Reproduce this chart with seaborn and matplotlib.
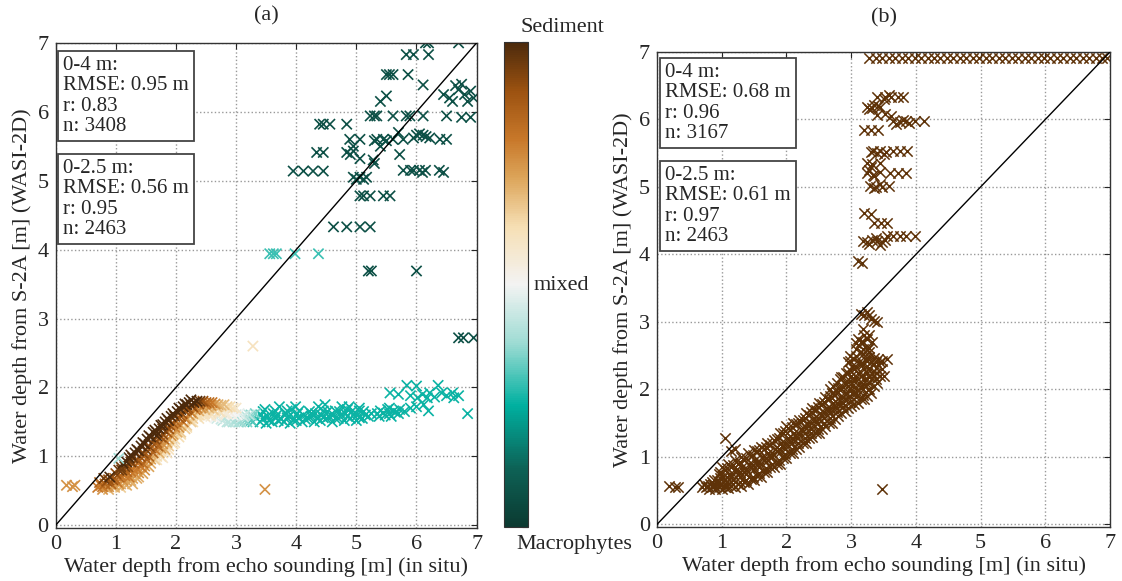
import matplotlib
matplotlib.use("Agg")
import pandas as pd
import matplotlib.pyplot as plt
import seaborn as sns
from matplotlib.colors import LinearSegmentedColormap, Normalize
from matplotlib.cm import ScalarMappable

# ---- data: panel (a), (x in situ, y WASI, class 0=Macrophytes .. 1=Sediment)
a_cloud = [
    (0.70, 0.55, 0.80), (0.73, 0.62, 0.85),
    (0.78, 0.52, 0.75), (0.82, 0.60, 0.85), (0.80, 0.68, 0.95),
    (0.88, 0.52, 0.70), (0.92, 0.60, 0.85), (0.90, 0.70, 1.00),
    (0.98, 0.55, 0.70), (1.02, 0.63, 0.80), (1.00, 0.75, 0.90),
    (1.08, 0.55, 0.65), (1.12, 0.65, 0.75), (1.10, 0.80, 0.95), (1.12, 0.90, 1.00),
    (1.18, 0.58, 0.70), (1.22, 0.70, 0.80), (1.20, 0.85, 0.90), (1.22, 0.98, 1.00),
    (1.28, 0.60, 0.70), (1.32, 0.75, 0.75), (1.30, 0.90, 0.85), (1.32, 1.05, 1.00),
    (1.38, 0.70, 0.70), (1.42, 0.85, 0.80), (1.40, 1.00, 0.90), (1.42, 1.15, 1.00),
    (1.48, 0.80, 0.75), (1.52, 0.95, 0.85), (1.50, 1.10, 0.95), (1.52, 1.25, 1.00),
    (1.58, 0.90, 0.70), (1.62, 1.05, 0.85), (1.60, 1.20, 0.90), (1.62, 1.35, 1.00),
    (1.68, 0.95, 0.60), (1.72, 1.05, 0.70), (1.70, 1.15, 0.85), (1.68, 1.30, 1.00), (1.72, 1.40, 1.00),
    (1.78, 0.98, 0.58), (1.82, 1.10, 0.70), (1.80, 1.25, 0.85), (1.78, 1.40, 0.95), (1.82, 1.50, 1.00),
    (1.88, 1.15, 0.65), (1.92, 1.30, 0.75), (1.90, 1.45, 0.90), (1.92, 1.58, 1.00),
    (1.98, 1.20, 0.60), (2.02, 1.35, 0.70), (2.00, 1.50, 0.85), (2.02, 1.65, 1.00),
    (2.08, 1.35, 0.65), (2.12, 1.50, 0.80), (2.10, 1.62, 0.90), (2.12, 1.72, 1.00),
    (2.18, 1.45, 0.65), (2.22, 1.60, 0.75), (2.20, 1.70, 0.90), (2.22, 1.78, 1.00),
    (2.28, 1.55, 0.65), (2.32, 1.68, 0.80), (2.30, 1.78, 1.00),
    (2.38, 1.60, 0.62), (2.42, 1.70, 0.75), (2.40, 1.80, 0.95),
    (2.48, 1.62, 0.60), (2.52, 1.72, 0.70), (2.50, 1.78, 0.85),
    (2.58, 1.58, 0.55), (2.62, 1.68, 0.65), (2.60, 1.78, 0.80),
    (2.68, 1.55, 0.45), (2.72, 1.65, 0.60), (2.70, 1.75, 0.70),
    (2.78, 1.52, 0.42), (2.82, 1.62, 0.55), (2.80, 1.75, 0.68),
    (2.88, 1.50, 0.42), (2.92, 1.62, 0.52), (2.90, 1.72, 0.62),
    (2.98, 1.50, 0.40), (3.02, 1.60, 0.50), (3.00, 1.70, 0.58),
    (3.08, 1.50, 0.38), (3.12, 1.58, 0.45),
    (3.18, 1.50, 0.35), (3.22, 1.60, 0.42),
    (3.28, 1.50, 0.30), (3.32, 1.62, 0.35),
    (0.75, 0.58, 0.80), (0.85, 0.56, 0.75), (0.85, 0.64, 0.90), (0.95, 0.56, 0.70),
    (0.95, 0.66, 0.90), (1.05, 0.60, 0.75), (1.05, 0.70, 0.85), (1.05, 0.80, 0.95),
    (1.15, 0.60, 0.70), (1.15, 0.72, 0.80), (1.15, 0.85, 0.95),
    (1.25, 0.65, 0.70), (1.25, 0.78, 0.80), (1.25, 0.92, 0.95), (1.25, 1.02, 1.00),
    (1.35, 0.68, 0.70), (1.35, 0.82, 0.80), (1.35, 0.95, 0.90), (1.35, 1.10, 1.00),
    (1.45, 0.75, 0.72), (1.45, 0.90, 0.82), (1.45, 1.05, 0.92), (1.45, 1.20, 1.00),
    (1.55, 0.85, 0.72), (1.55, 1.00, 0.85), (1.55, 1.15, 0.92), (1.55, 1.30, 1.00),
    (1.65, 0.95, 0.65), (1.65, 1.10, 0.80), (1.65, 1.25, 0.92), (1.65, 1.38, 1.00),
    (1.75, 1.00, 0.60), (1.75, 1.12, 0.75), (1.75, 1.28, 0.90), (1.75, 1.45, 1.00),
    (1.85, 1.05, 0.60), (1.85, 1.20, 0.72), (1.85, 1.35, 0.88), (1.85, 1.55, 1.00),
    (1.95, 1.18, 0.62), (1.95, 1.32, 0.72), (1.95, 1.48, 0.88), (1.95, 1.62, 1.00),
    (2.05, 1.28, 0.62), (2.05, 1.42, 0.75), (2.05, 1.56, 0.88), (2.05, 1.70, 1.00),
    (2.15, 1.40, 0.65), (2.15, 1.55, 0.78), (2.15, 1.66, 0.90), (2.15, 1.76, 1.00),
    (2.25, 1.50, 0.65), (2.25, 1.64, 0.78), (2.25, 1.74, 0.92), (2.25, 1.82, 1.00),
    (2.35, 1.58, 0.62), (2.35, 1.70, 0.78), (2.35, 1.80, 1.00),
    (2.45, 1.62, 0.60), (2.45, 1.72, 0.72), (2.45, 1.80, 0.90),
    (2.55, 1.60, 0.58), (2.55, 1.70, 0.68), (2.55, 1.78, 0.82),
    (2.65, 1.56, 0.50), (2.65, 1.66, 0.62), (2.65, 1.76, 0.75),
    (2.75, 1.54, 0.44), (2.75, 1.64, 0.58), (2.75, 1.74, 0.68),
    (2.85, 1.50, 0.42), (2.85, 1.62, 0.54), (2.85, 1.72, 0.64),
    (2.95, 1.50, 0.40), (2.95, 1.60, 0.50), (2.95, 1.70, 0.60),
    (3.05, 1.50, 0.38), (3.05, 1.62, 0.48), (3.15, 1.52, 0.36), (3.15, 1.60, 0.42),
    (3.25, 1.52, 0.32), (3.25, 1.60, 0.36),
    (0.78, 0.56, 0.80), (0.88, 0.56, 0.75), (0.88, 0.66, 0.90),
    (0.98, 0.58, 0.72), (0.98, 0.68, 0.85),
    (1.08, 0.60, 0.70), (1.08, 0.72, 0.80), (1.08, 0.85, 0.95),
    (1.18, 0.64, 0.72), (1.18, 0.78, 0.85), (1.18, 0.92, 1.00),
    (1.28, 0.68, 0.72), (1.28, 0.82, 0.80), (1.28, 0.98, 0.95),
    (1.38, 0.76, 0.75), (1.38, 0.92, 0.85), (1.38, 1.08, 1.00),
    (1.48, 0.86, 0.75), (1.48, 1.02, 0.88), (1.48, 1.18, 1.00),
    (1.58, 0.96, 0.72), (1.58, 1.12, 0.88), (1.58, 1.28, 1.00),
    (1.68, 1.00, 0.62), (1.68, 1.20, 0.85), (1.68, 1.35, 1.00),
    (1.78, 1.05, 0.62), (1.78, 1.18, 0.75), (1.78, 1.32, 0.92), (1.78, 1.46, 1.00),
    (1.88, 1.10, 0.60), (1.88, 1.25, 0.72), (1.88, 1.40, 0.90), (1.88, 1.52, 1.00),
    (1.98, 1.25, 0.62), (1.98, 1.42, 0.78), (1.98, 1.58, 0.95),
    (2.08, 1.32, 0.62), (2.08, 1.45, 0.72), (2.08, 1.58, 0.88), (2.08, 1.68, 1.00),
    (2.18, 1.42, 0.62), (2.18, 1.55, 0.72), (2.18, 1.68, 0.90), (2.18, 1.75, 1.00),
    (2.28, 1.50, 0.62), (2.28, 1.62, 0.72), (2.28, 1.72, 0.90),
    (2.38, 1.55, 0.60), (2.38, 1.66, 0.70), (2.38, 1.76, 0.90),
    (2.48, 1.58, 0.58), (2.48, 1.68, 0.68), (2.48, 1.76, 0.80),
    (2.58, 1.62, 0.60), (2.58, 1.74, 0.75), (2.68, 1.60, 0.55), (2.68, 1.72, 0.68),
]

a_band = [
    (3.40, 1.50), (3.42, 1.60), (3.50, 1.48), (3.52, 1.58), (3.48, 1.68),
    (3.60, 1.50), (3.62, 1.62), (3.70, 1.52), (3.68, 1.60), (3.72, 1.72),
    (3.80, 1.50), (3.82, 1.62), (3.90, 1.48), (3.88, 1.58), (3.92, 1.68),
    (4.00, 1.52), (4.02, 1.62), (3.99, 1.72), (4.10, 1.50), (4.12, 1.60),
    (4.20, 1.55), (4.22, 1.65), (4.30, 1.50), (4.32, 1.62), (4.37, 1.72),
    (4.40, 1.52), (4.42, 1.60), (4.50, 1.55), (4.52, 1.65), (4.48, 1.75),
    (4.60, 1.50), (4.62, 1.60), (4.70, 1.55), (4.72, 1.65), (4.76, 1.72),
    (4.80, 1.52), (4.82, 1.62), (4.90, 1.55), (4.92, 1.65), (4.88, 1.72),
    (5.00, 1.52), (5.02, 1.60), (5.05, 1.70), (5.10, 1.55), (5.12, 1.65),
    (5.20, 1.58), (5.38, 1.58), (5.40, 1.66), (5.48, 1.60), (5.52, 1.68),
    (5.58, 1.58), (5.62, 1.66), (5.70, 1.62), (5.72, 1.68), (5.80, 1.65),
    (5.90, 1.70), (6.00, 1.72), (6.02, 1.85), (6.00, 2.02), (6.10, 1.90),
    (6.12, 1.75), (6.20, 1.66), (6.18, 1.85), (6.22, 1.92), (6.30, 1.86),
    (6.36, 2.03), (6.42, 1.92), (6.50, 1.88), (6.60, 1.92), (6.62, 1.85),
    (6.70, 1.88), (6.85, 1.62), (5.56, 1.92), (5.70, 1.90), (5.84, 2.03),
    (5.90, 1.88),
    (3.45, 1.55), (3.55, 1.52), (3.65, 1.56), (3.75, 1.54), (3.85, 1.56),
    (3.95, 1.53), (4.05, 1.56), (4.15, 1.54), (4.25, 1.58), (4.35, 1.55),
    (4.45, 1.56), (4.55, 1.58), (4.65, 1.55), (4.75, 1.60), (4.85, 1.58),
    (4.95, 1.60), (5.05, 1.56), (5.15, 1.60), (5.25, 1.62), (5.45, 1.63),
    (5.55, 1.62), (5.65, 1.64), (3.45, 1.65), (3.65, 1.66), (3.85, 1.66),
    (4.05, 1.66), (4.25, 1.62), (4.45, 1.66), (4.65, 1.66), (4.85, 1.68),
    (5.05, 1.66), (5.35, 1.62), (5.55, 1.70),
]
a_band_c = 0.26

a_deep = [
    (5.83, 6.83), (5.95, 6.83), (6.20, 6.83),
    (5.50, 6.54), (5.55, 6.54), (5.61, 6.54), (5.86, 6.54), (6.11, 6.39),
    (5.40, 6.15), (5.50, 6.23),
    (6.45, 6.25), (6.55, 6.20), (6.65, 6.38), (6.70, 6.32), (6.75, 6.40),
    (6.80, 6.25), (6.90, 6.30), (6.60, 6.15), (6.85, 6.15), (6.95, 6.20),
    (5.23, 5.94), (5.30, 5.94), (5.34, 5.94), (5.61, 5.94), (5.83, 5.94),
    (5.89, 5.94), (6.11, 5.94), (6.50, 5.94), (6.75, 5.92), (6.90, 5.92),
    (4.39, 5.82), (4.45, 5.82), (4.56, 5.82), (4.84, 5.82),
    (4.89, 5.60), (5.06, 5.60), (5.30, 5.58), (5.34, 5.60), (5.45, 5.60),
    (5.50, 5.58), (5.61, 5.60), (5.78, 5.60), (5.95, 5.62), (6.00, 5.66),
    (6.05, 5.68), (6.11, 5.66), (6.16, 5.64), (6.22, 5.62), (6.39, 5.60),
    (6.50, 5.60), (5.70, 5.70), (4.95, 5.50), (5.40, 5.50),
    (4.34, 5.41), (4.45, 5.41), (4.84, 5.41), (4.90, 5.38), (4.95, 5.43),
    (5.06, 5.32), (5.28, 5.30), (5.30, 5.25), (5.72, 5.38),
    (3.95, 5.14), (4.12, 5.14), (4.28, 5.14), (4.45, 5.14),
    (5.78, 5.15), (5.90, 5.15), (5.95, 5.15), (6.05, 5.15), (6.10, 5.12),
    (6.15, 5.15), (6.38, 5.15), (6.45, 5.12),
    (4.95, 5.05), (5.00, 5.02), (5.06, 5.05), (5.12, 5.02), (5.17, 5.05),
    (5.06, 4.78), (5.12, 4.78), (5.23, 4.78), (5.45, 4.78), (5.56, 4.78),
    (4.62, 4.33), (4.84, 4.33), (5.06, 4.33), (5.23, 4.33),
    (5.20, 3.69), (5.25, 3.69), (6.00, 3.69),
    (6.70, 2.72), (6.78, 2.72), (6.95, 2.72),
    (6.15, 7.00), (6.20, 7.00), (6.70, 7.00),
]
a_deep_c = 0.07

a_misc = [
    (3.56, 3.94, 0.30), (3.62, 3.94, 0.30), (3.67, 3.94, 0.30),
    (3.98, 3.94, 0.30), (4.37, 3.94, 0.30),
    (0.18, 0.58, 0.75), (0.28, 0.56, 0.75), (0.32, 0.58, 0.75),
    (3.48, 0.52, 0.75), (3.28, 2.60, 0.60), (1.05, 0.97, 0.38),
]

a_stats = ["0-4 m:\nRMSE: 0.95 m\nr: 0.83\nn: 3408",
           "0-2.5 m:\nRMSE: 0.56 m\nr: 0.95\nn: 2463"]

# ---- data: panel (b), all sediment
b_cloud = [
    (0.70, 0.55), (0.72, 0.60), (0.80, 0.53), (0.82, 0.60),
    (0.90, 0.52), (0.88, 0.58), (0.92, 0.65),
    (1.00, 0.53), (0.98, 0.60), (1.02, 0.70), (1.00, 0.85),
    (1.10, 0.54), (1.08, 0.62), (1.12, 0.75), (1.10, 0.90),
    (1.20, 0.55), (1.18, 0.65), (1.22, 0.80), (1.20, 0.95),
    (1.30, 0.57), (1.28, 0.70), (1.32, 0.85), (1.30, 1.00),
    (1.40, 0.60), (1.38, 0.75), (1.42, 0.90), (1.40, 1.05),
    (1.50, 0.65), (1.48, 0.80), (1.52, 0.95), (1.50, 1.10),
    (1.60, 0.70), (1.58, 0.85), (1.62, 1.00), (1.60, 1.15),
    (1.70, 0.78), (1.68, 0.92), (1.72, 1.05), (1.70, 1.20),
    (1.80, 0.85), (1.78, 1.00), (1.82, 1.12), (1.80, 1.25),
    (1.90, 0.90), (1.88, 1.05), (1.92, 1.20), (1.90, 1.35),
    (2.00, 0.98), (1.98, 1.12), (2.02, 1.28), (2.00, 1.45),
    (2.10, 1.05), (2.08, 1.20), (2.12, 1.35), (2.10, 1.50),
    (2.20, 1.15), (2.18, 1.28), (2.22, 1.42), (2.20, 1.55),
    (2.30, 1.20), (2.28, 1.35), (2.32, 1.50), (2.30, 1.65),
    (2.40, 1.30), (2.38, 1.42), (2.42, 1.58), (2.40, 1.72),
    (2.50, 1.35), (2.48, 1.50), (2.52, 1.65), (2.50, 1.80),
    (2.60, 1.45), (2.58, 1.58), (2.62, 1.72), (2.60, 1.88),
    (2.70, 1.50), (2.68, 1.65), (2.72, 1.80), (2.70, 1.95), (2.72, 2.05),
    (2.80, 1.60), (2.78, 1.72), (2.82, 1.88), (2.80, 2.02), (2.82, 2.15),
    (2.90, 1.68), (2.88, 1.80), (2.92, 1.95), (2.90, 2.10), (2.92, 2.25),
    (3.00, 1.75), (2.98, 1.90), (3.02, 2.05), (3.00, 2.20), (3.02, 2.35), (2.98, 2.50),
    (3.10, 1.80), (3.08, 1.95), (3.12, 2.10), (3.10, 2.25), (3.12, 2.40),
    (3.08, 2.60), (3.10, 2.75),
    (3.20, 1.85), (3.18, 2.00), (3.22, 2.15), (3.20, 2.30), (3.22, 2.45),
    (3.18, 2.60), (3.20, 2.80), (3.15, 3.12),
    (3.30, 1.95), (3.28, 2.10), (3.32, 2.25), (3.30, 2.40), (3.28, 2.55),
    (3.32, 2.70), (3.30, 3.05), (3.24, 3.15),
    (3.40, 2.10), (3.38, 2.25), (3.42, 2.45), (3.40, 3.00),
    (3.50, 2.20), (3.55, 2.45),
    (1.05, 1.28), (1.20, 1.12), (1.15, 1.08),
    (0.18, 0.57), (0.28, 0.55), (0.33, 0.55), (3.48, 0.52),
    (0.75, 0.56), (0.85, 0.55), (0.85, 0.62), (0.95, 0.55), (0.95, 0.62),
    (0.95, 0.75), (1.05, 0.56), (1.05, 0.66), (1.05, 0.80), (1.15, 0.57),
    (1.15, 0.70), (1.15, 0.85), (1.25, 0.60), (1.25, 0.75), (1.25, 0.90),
    (1.35, 0.62), (1.35, 0.78), (1.35, 0.95), (1.45, 0.67), (1.45, 0.85),
    (1.45, 1.02), (1.55, 0.72), (1.55, 0.90), (1.55, 1.08), (1.65, 0.78),
    (1.65, 0.95), (1.65, 1.12), (1.75, 0.85), (1.75, 1.00), (1.75, 1.18),
    (1.85, 0.90), (1.85, 1.08), (1.85, 1.26), (1.95, 0.98), (1.95, 1.15),
    (1.95, 1.35), (2.05, 1.05), (2.05, 1.22), (2.05, 1.40), (2.15, 1.12),
    (2.15, 1.30), (2.15, 1.48), (2.25, 1.20), (2.25, 1.38), (2.25, 1.55),
    (2.35, 1.28), (2.35, 1.45), (2.35, 1.62), (2.45, 1.35), (2.45, 1.52),
    (2.45, 1.70), (2.55, 1.42), (2.55, 1.60), (2.55, 1.78), (2.65, 1.50),
    (2.65, 1.68), (2.65, 1.86), (2.75, 1.56), (2.75, 1.74), (2.75, 1.92),
    (2.85, 1.65), (2.85, 1.82), (2.85, 2.00), (2.85, 2.18), (2.95, 1.72),
    (2.95, 1.88), (2.95, 2.05), (2.95, 2.25), (2.95, 2.40), (3.05, 1.78),
    (3.05, 1.95), (3.05, 2.12), (3.05, 2.30), (3.05, 2.45), (3.15, 1.85),
    (3.15, 2.02), (3.15, 2.20), (3.15, 2.38), (3.15, 2.55), (3.15, 2.70),
    (3.25, 1.90), (3.25, 2.08), (3.25, 2.25), (3.25, 2.42), (3.25, 2.60),
    (3.25, 2.75), (3.35, 2.05), (3.35, 2.20), (3.35, 2.38), (3.35, 2.46),
    (3.45, 2.20), (3.45, 2.40), (3.20, 3.10), (3.28, 3.10), (3.35, 3.02),
    (0.78, 0.57), (0.88, 0.57), (0.88, 0.66), (0.98, 0.58), (0.98, 0.68),
    (0.98, 0.78), (1.08, 0.58), (1.08, 0.70), (1.08, 0.83), (1.18, 0.60),
    (1.18, 0.74), (1.18, 0.88), (1.28, 0.63), (1.28, 0.78), (1.28, 0.93),
    (1.38, 0.66), (1.38, 0.82), (1.38, 0.98), (1.48, 0.70), (1.48, 0.88),
    (1.48, 1.03), (1.58, 0.76), (1.58, 0.93), (1.58, 1.10), (1.68, 0.83),
    (1.68, 0.98), (1.68, 1.14), (1.78, 0.90), (1.78, 1.06), (1.78, 1.20),
    (1.88, 0.96), (1.88, 1.12), (1.88, 1.28), (1.98, 1.04), (1.98, 1.20),
    (1.98, 1.38), (2.08, 1.12), (2.08, 1.28), (2.08, 1.44), (2.18, 1.20),
    (2.18, 1.36), (2.18, 1.50), (2.28, 1.28), (2.28, 1.44), (2.28, 1.58),
    (2.38, 1.36), (2.38, 1.50), (2.38, 1.66), (2.48, 1.42), (2.48, 1.58),
    (2.48, 1.74), (2.58, 1.50), (2.58, 1.66), (2.58, 1.82), (2.68, 1.58),
    (2.68, 1.72), (2.68, 1.90), (2.68, 2.00), (2.78, 1.66), (2.78, 1.80),
    (2.78, 1.96), (2.78, 2.10), (2.88, 1.74), (2.88, 1.88), (2.88, 2.04),
    (2.88, 2.18), (2.98, 1.82), (2.98, 1.98), (2.98, 2.12), (2.98, 2.28),
    (2.98, 2.42), (3.08, 1.88), (3.08, 2.02), (3.08, 2.18), (3.08, 2.33),
    (3.08, 2.50), (3.08, 2.68), (3.18, 1.92), (3.18, 2.08), (3.18, 2.22),
    (3.18, 2.38), (3.18, 2.52), (3.18, 2.70), (3.18, 2.90), (3.28, 2.00),
    (3.28, 2.18), (3.28, 2.32), (3.28, 2.48), (3.28, 2.62), (3.28, 2.80),
    (3.38, 2.15), (3.38, 2.32), (3.38, 2.40), (3.48, 2.30), (3.48, 2.42),
]

b_deep = [
    (3.11, 3.90), (3.16, 3.88),
    (3.19, 4.20), (3.25, 4.18), (3.32, 4.22), (3.40, 4.20), (3.48, 4.18),
    (3.55, 4.28), (3.65, 4.28), (3.75, 4.28), (3.85, 4.28), (3.98, 4.28),
    (3.36, 4.47), (3.46, 4.47), (3.56, 4.47), (3.20, 4.62), (3.30, 4.60),
    (3.29, 5.01), (3.38, 5.00), (3.48, 5.00), (3.58, 5.01),
    (3.24, 5.21), (3.34, 5.18), (3.44, 5.22), (3.60, 5.20), (3.72, 5.20), (3.85, 5.20),
    (3.24, 5.36), (3.32, 5.34), (3.44, 5.36),
    (3.34, 5.53), (3.44, 5.53), (3.54, 5.52), (3.64, 5.53), (3.76, 5.53), (3.86, 5.53),
    (3.20, 5.85), (3.30, 5.84), (3.42, 5.85),
    (3.65, 5.97), (3.75, 5.96), (3.85, 5.97), (3.98, 5.97), (4.12, 5.97),
    (3.40, 6.07), (3.52, 6.08), (3.62, 6.05),
    (3.24, 6.19), (3.32, 6.17), (3.42, 6.20),
    (3.40, 6.34), (3.52, 6.33), (3.62, 6.34), (3.72, 6.34), (3.80, 6.33),
    (3.28, 6.15), (3.36, 6.22), (3.45, 6.18), (3.70, 5.93), (3.80, 5.99),
    (3.90, 5.95), (3.28, 5.25), (3.36, 5.16), (3.30, 5.30), (3.28, 4.15),
    (3.38, 4.25), (3.45, 4.14), (3.52, 4.22), (3.30, 5.52), (3.40, 5.50),
    (3.50, 5.49), (3.35, 4.98), (3.45, 5.04), (3.50, 6.30), (3.58, 6.36),
]

b_top_x = [3.28, 3.38, 3.48, 3.58, 3.68, 3.78, 3.88, 3.98, 4.08, 4.18,
           4.28, 4.38, 4.48, 4.58, 4.68, 4.78, 4.88, 4.98, 5.08, 5.18,
           5.28, 5.38, 5.48, 5.58, 5.68, 5.78, 5.88, 5.98, 6.08, 6.18,
           6.28, 6.38, 6.48, 6.58, 6.68, 6.78, 6.88, 6.96]
b_top_y = 6.91

b_stats = ["0-4 m:\nRMSE: 0.68 m\nr: 0.96\nn: 3167",
           "0-2.5 m:\nRMSE: 0.61 m\nr: 0.97\nn: 2463"]

# ---- build tables
cloud_a = pd.DataFrame(a_cloud, columns=["x", "y", "c"]).sort_values("c")
df_a = pd.concat([
    pd.DataFrame(a_band, columns=["x", "y"]).assign(c=a_band_c),
    cloud_a,
    pd.DataFrame(a_misc, columns=["x", "y", "c"]),
    pd.DataFrame(a_deep, columns=["x", "y"]).assign(c=a_deep_c),
], ignore_index=True)

df_b = pd.concat([
    pd.DataFrame(b_cloud, columns=["x", "y"]),
    pd.DataFrame(b_deep, columns=["x", "y"]),
    pd.DataFrame({"x": b_top_x, "y": b_top_y}),
], ignore_index=True)

cmap = LinearSegmentedColormap.from_list("sed_mac", [
    (0.00, "#0c3a31"), (0.12, "#0d6256"), (0.25, "#00b0a0"),
    (0.38, "#9fdcd4"), (0.50, "#f3f3f3"), (0.62, "#f6dfb4"),
    (0.72, "#dca55a"), (0.80, "#c8782a"), (0.90, "#9c5210"),
    (1.00, "#4c2a0c")])

sns.set_style("white")
plt.rcParams['font.family'] = ['Liberation Serif', 'DejaVu Serif']
fs = 16

fig = plt.figure(figsize=(11.22, 5.81), dpi=100)
ax_a = fig.add_axes([0.0496, 0.0912, 0.3752, 0.835])
cax = fig.add_axes([0.4492, 0.0929, 0.0214, 0.8348])
ax_b = fig.add_axes([0.5856, 0.0929, 0.4037, 0.8176])

sns.scatterplot(data=df_a, x="x", y="y", hue="c", palette=cmap, hue_norm=(0, 1),
                marker="x", s=55, linewidth=1.2, legend=False, ax=ax_a)
sns.scatterplot(data=df_b, x="x", y="y", color="#5e3208",
                marker="x", s=55, linewidth=1.1, legend=False, ax=ax_b)


def style(ax, title, stats, box_y, tpad):
    ax.plot([0, 7], [0, 7], color="k", lw=1, zorder=5)
    ax.set_xlim(0, 7)
    ax.set_ylim(-0.04, 7)
    ax.set_xticks(range(8))
    ax.set_yticks(range(8))
    ax.grid(True, linestyle=":", color="#999999", linewidth=1)
    ax.set_axisbelow(True)
    ax.tick_params(direction="in", top=True, right=True, length=4,
                   labelsize=fs, pad=5)
    for sp in ax.spines.values():
        sp.set_color("#333333")
        sp.set_linewidth(1)
    ax.set_xlabel("Water depth from echo sounding [m] (in situ)", fontsize=fs, labelpad=2)
    ax.set_ylabel("Water depth from S-2A [m] (WASI-2D)", fontsize=fs)
    ax.set_title(title, fontsize=fs, pad=tpad)
    for txt, yy in zip(stats, box_y):
        ax.text(0.018, yy, txt, transform=ax.transAxes, va="top", ha="left",
                fontsize=15, linespacing=1.1, zorder=6,
                bbox=dict(boxstyle="square,pad=0.25", fc="white",
                          ec="#444444", lw=1.3))


style(ax_a, "(a)", a_stats, [0.973, 0.761], 16)
style(ax_b, "(b)", b_stats, [0.977, 0.76], 21)

cb = fig.colorbar(ScalarMappable(norm=Normalize(0, 1), cmap=cmap), cax=cax)
cb.set_ticks([i / 8 for i in range(9)])
cb.ax.tick_params(direction="in", length=4, labelright=False, right=True)
cb.outline.set_edgecolor("#333333")
fig.text(562 / 1122, 1 - 28 / 581, "Sediment", fontsize=fs, ha="center", va="center")
fig.text(534 / 1122, 1 - 285 / 581, "mixed", fontsize=fs, ha="left", va="center")
fig.text(574 / 1122, 1 - 545 / 581, "Macrophytes", fontsize=fs, ha="center", va="center")

fig.savefig("out.png", dpi=100)
